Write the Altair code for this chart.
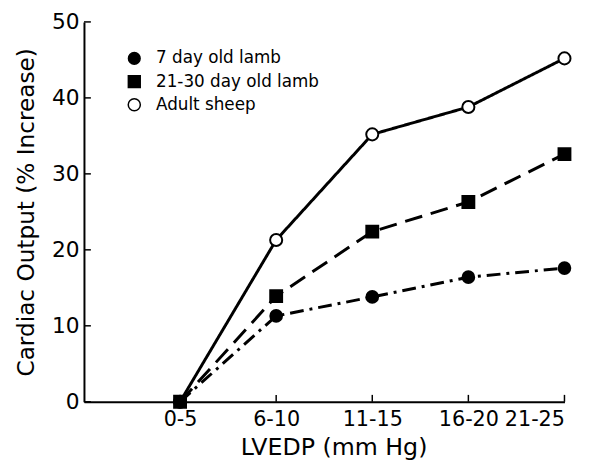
import json
import altair as alt
import pandas as pd

categories = ["0-5", "6-10", "11-15", "16-20", "21-25"]
series_names = ["7 day old lamb", "21-30 day old lamb", "Adult sheep"]
lamb7 = [0, 11.3, 13.8, 16.4, 17.6]
lamb21 = [0, 13.9, 22.4, 26.3, 32.6]
adult = [0, 21.3, 35.2, 38.8, 45.2]
y_ticks = [0, 10, 20, 30, 40, 50]

rows = []
for name, vals in [("Adult sheep", adult), ("7 day old lamb", lamb7), ("21-30 day old lamb", lamb21)]:
    for i, (c, v) in enumerate(zip(categories, vals)):
        rows.append({"series": name, "line": name, "pos": i + 1, "cat": c, "value": v})
df = pd.DataFrame(rows)
legend_df = pd.DataFrame({"series": series_names, "rank": list(range(len(series_names)))})

label_expr = json.dumps(categories) + "[datum.value - 1]"
W, H = 487, 385
FONT = "DejaVu Sans"

xscale = alt.Scale(domain=[0, 5], nice=False, zero=False)
yscale = alt.Scale(domain=[0, 50], nice=False)
shape_scale = alt.Scale(domain=series_names, range=["circle", "square", "circle"])
fill_scale = alt.Scale(domain=series_names, range=["black", "black", "white"])
size_scale = alt.Scale(domain=series_names, range=[140, 150, 90])

x_enc = alt.X("pos:Q", scale=xscale,
              axis=alt.Axis(values=[1, 2, 3, 4, 5], labelExpr=label_expr, ticks=False,
                            labelOverlap=False,
                            title="LVEDP (mm Hg)", labelPadding=7, titlePadding=6,
                            titleX=253, titleAlign="center",
                            labelFontSize=21, titleFontSize=24, labelFont=FONT, titleFont=FONT,
                            titleFontWeight="normal", labelColor="black", titleColor="black",
                            domainColor="black", domainWidth=2, grid=False))
y_enc = alt.Y("value:Q", scale=yscale,
              axis=alt.Axis(values=y_ticks, ticks=False, title="Cardiac Output (% Increase)",
                            labelOverlap=False,
                            labelPadding=5, titlePadding=13, labelFontSize=22, titleFontSize=23.5,
                            labelFont=FONT, titleFont=FONT, titleFontWeight="normal",
                            labelColor="black", titleColor="black", domainColor="black",
                            domainWidth=2, grid=False))

lines = alt.Chart(df).mark_line(color="black", strokeWidth=3).encode(
    x=x_enc, y=y_enc,
    detail="line:N",
    strokeDash=alt.StrokeDash("line:N",
                              scale=alt.Scale(domain=series_names,
                                              range=[[14, 6, 3, 6], [18, 9], [1, 0]]),
                              legend=None),
)

points = alt.Chart(df).mark_point(filled=False, opacity=1, stroke="black", strokeWidth=2).encode(
    x=alt.X("pos:Q", scale=xscale),
    y=alt.Y("value:Q", scale=yscale, axis=None),
    shape=alt.Shape("series:N", scale=shape_scale, legend=None),
    fill=alt.Fill("series:N", scale=fill_scale, legend=None),
    size=alt.Size("series:N", scale=size_scale, legend=None),
)

ytick_df = pd.DataFrame({"value": y_ticks})
yticks = alt.Chart(ytick_df).mark_rule(color="black", strokeWidth=1.5).encode(
    y=alt.Y("value:Q", scale=yscale, axis=None), x=alt.value(0), x2=alt.value(7))

xtick_df = pd.DataFrame({"pos": [2, 3, 4, 5]})
xticks = alt.Chart(xtick_df).mark_rule(color="black", strokeWidth=1.5).encode(
    x=alt.X("pos:Q", scale=xscale), y=alt.value(H), y2=alt.value(H - 7))

# legend (drawn as a layer with its own row scale)
leg_y = alt.Y("rank:Q", scale=alt.Scale(domain=[0, 2], range=[37, 84]), axis=None)
leg_sym = alt.Chart(legend_df).mark_point(filled=False, opacity=1, stroke="black",
                                          strokeWidth=1.5).encode(
    x=alt.value(51), y=leg_y,
    shape=alt.Shape("series:N", scale=shape_scale, legend=None),
    fill=alt.Fill("series:N", scale=fill_scale, legend=None),
    size=alt.Size("series:N", scale=size_scale, legend=None),
)
leg_txt = alt.Chart(legend_df).mark_text(align="left", baseline="middle", fontSize=17,
                                         font=FONT, color="black").encode(
    x=alt.value(73), y=leg_y, text="series:N")

chart = alt.layer(lines, yticks, xticks, points, leg_sym, leg_txt).resolve_scale(
    y="independent"
).properties(
    width=W, height=H,
    autosize=alt.AutoSizeParams(type="none"),
    padding={"left": 77, "top": 11, "right": 35, "bottom": 64},
).configure_view(stroke=None)

chart.save("out.html", embed_options={"renderer": "svg", "actions": False})
